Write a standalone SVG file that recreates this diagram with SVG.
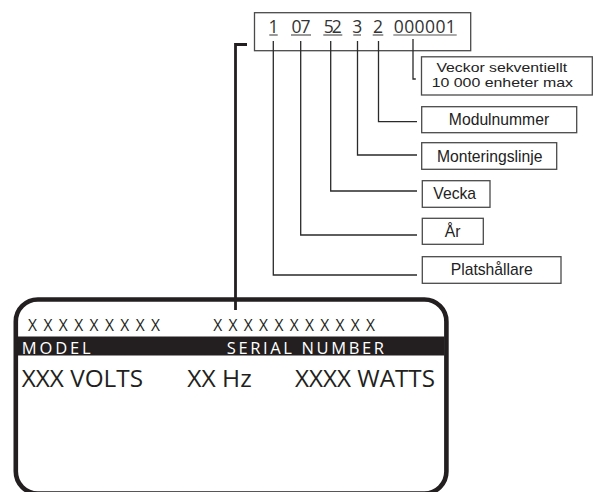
<svg xmlns="http://www.w3.org/2000/svg" width="593" height="492" viewBox="0 0 593 492">
<style>
.lbl{font-family:"Liberation Sans",Arial,sans-serif;font-size:15.7px;fill:#222;text-anchor:middle}
.small{font-size:13px}
.box{fill:#fff;stroke:#4a4a4a;stroke-width:1.3}
.dig{font-family:"Open Sans",sans-serif;font-size:17.5px;fill:#333;text-anchor:middle}
.ul{stroke:#555;stroke-width:1.2}
.con{fill:none;stroke:#2a2a2a;stroke-width:1.3}
.plate{font-family:"Open Sans",sans-serif;fill:#231f20}
.inv{fill:#fff}
</style>
<rect width="593" height="492" fill="#fff"/>
<g id="code">
<rect class="box" x="254.5" y="12.7" width="216.2" height="38"/>
<text class="dig" x="273.5" y="32.7">1</text>
<text class="dig" x="301" y="32.7" textLength="19" lengthAdjust="spacing">07</text>
<text class="dig" x="332.8" y="32.7" textLength="18" lengthAdjust="spacing">52</text>
<text class="dig" x="357.2" y="32.7">3</text>
<text class="dig" x="378" y="32.7">2</text>
<text class="dig" x="424.8" y="32.7" textLength="62" lengthAdjust="spacing">000001</text>
<line class="ul" x1="269.3" y1="35" x2="277.7" y2="35"/>
<line class="ul" x1="291" y1="35" x2="311" y2="35"/>
<line class="ul" x1="323.3" y1="35" x2="342.3" y2="35"/>
<line class="ul" x1="353.3" y1="35" x2="361" y2="35"/>
<line class="ul" x1="372.7" y1="35" x2="383.3" y2="35"/>
<line class="ul" x1="393.3" y1="35" x2="456.7" y2="35"/>
</g>
<g id="veckor">
<rect class="box" x="421.5" y="56.8" width="170.8" height="38.2"/>
<text class="lbl small" x="501.8" y="72.2" textLength="130.7" lengthAdjust="spacingAndGlyphs">Veckor sekventiellt</text>
<text class="lbl small" x="502.3" y="86.8" textLength="141.3" lengthAdjust="spacingAndGlyphs">10 000 enheter max</text>
</g>
<g id="modulnummer">
<rect class="box" x="421.7" y="106.7" width="155" height="26"/>
<text class="lbl" x="499" y="124.5">Modulnummer</text>
</g>
<g id="monteringslinje">
<rect class="box" x="421.7" y="142.7" width="135" height="26.6"/>
<text class="lbl" x="489.7" y="161.5">Monteringslinje</text>
</g>
<g id="vecka">
<rect class="box" x="422.3" y="180.7" width="67.7" height="26.6"/>
<text class="lbl" x="454.7" y="199.3">Vecka</text>
</g>
<g id="ar">
<rect class="box" x="422.3" y="218.3" width="61" height="26"/>
<text class="lbl" x="452.6" y="237">År</text>
</g>
<g id="platshallare">
<rect class="box" x="422.3" y="256.7" width="138.7" height="26.6"/>
<text class="lbl" x="491.7" y="275">Platshållare</text>
</g>
<g id="plate">
<rect x="15.8" y="299.5" width="430.6" height="194" rx="22" ry="22" fill="#fff" stroke="#231f20" stroke-width="4.6"/>
<rect x="17.5" y="336.5" width="427" height="19" fill="#231f20"/>
<text class="plate" x="28" y="331.3" font-size="15.5" textLength="132" lengthAdjust="spacing">XXXXXXXXX</text>
<text class="plate" x="213.3" y="331.3" font-size="15.5" textLength="161.7" lengthAdjust="spacing">XXXXXXXXXXX</text>
<text class="plate inv" x="21.7" y="353.8" font-size="16.5" textLength="69" lengthAdjust="spacing">MODEL</text>
<text class="plate inv" x="226.7" y="353.8" font-size="16.5" textLength="157.3" lengthAdjust="spacing">SERIAL NUMBER</text>
<text class="plate" x="21.7" y="387.3" font-size="24" textLength="121.3" lengthAdjust="spacingAndGlyphs">XXX VOLTS</text>
<text class="plate" x="187.3" y="387.3" font-size="24" textLength="64.4" lengthAdjust="spacingAndGlyphs">XX Hz</text>
<text class="plate" x="295" y="387.3" font-size="24" textLength="140" lengthAdjust="spacingAndGlyphs">XXXX WATTS</text>
</g>
<g id="connectors">
<path class="con" d="M273.3,41 V275 H417"/>
<path class="con" d="M300.7,41 V235 H417"/>
<path class="con" d="M330.7,41 V191 H417"/>
<path class="con" d="M357.5,41 V155 H417"/>
<path class="con" d="M378.5,41 V121.7 H417"/>
<path class="con" d="M413,39 V79 H415.8"/>
<path d="M247,44.5 H235.5 V310" fill="none" stroke="#231f20" stroke-width="2.8"/>
</g>
</svg>
